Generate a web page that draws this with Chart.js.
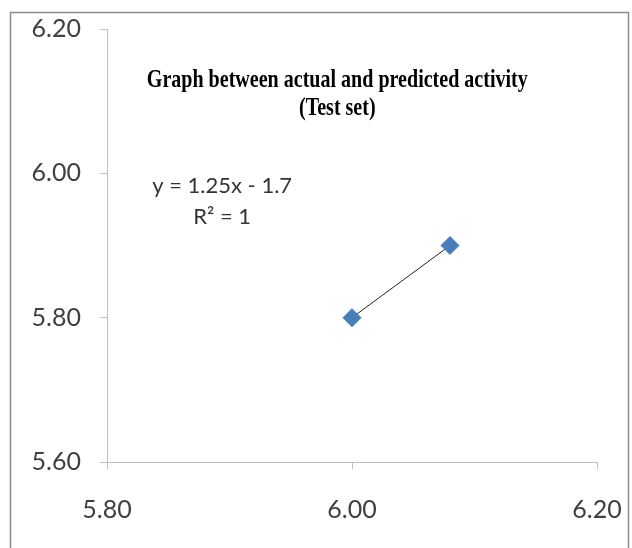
<!DOCTYPE html>
<html>
<head>
<meta charset="utf-8">
<script src="https://cdn.jsdelivr.net/npm/chart.js@4.4.1/dist/chart.umd.min.js"></script>
<style>
  html, body { margin: 0; padding: 0; background: #fff; }
  #wrap { width: 632px; height: 548px; }
</style>
</head>
<body>
<div id="wrap"><canvas id="my-chart" width="632" height="548"></canvas></div>
<script>
'use strict';

// data
let actualValues = [6.00, 6.08];
let predictedValues = [5.80, 5.90];

// axis ticks
let xTicks = [5.80, 6.00, 6.20];
let yTicks = [5.60, 5.80, 6.00, 6.20];

// text
let titleLines = ['Graph between actual and predicted activity', '(Test set)'];
let equationLines = ['y = 1.25x - 1.7', 'R\u00b2 = 1'];

let axisGrey = '#bfbfbf';
let labelFont = 'Lato, "Open Sans", sans-serif';

// build points
let points = [];
for (let i = 0; i < actualValues.length; i++) {
  points.push({ x: actualValues[i], y: predictedValues[i] });
}

// white background and outer frame
let framePlugin = {
  id: 'frame',
  beforeDraw(chart) {
    let c = chart.ctx;
    c.save();
    c.fillStyle = '#fff';
    c.fillRect(0, 0, chart.width, chart.height);
    c.strokeStyle = '#8c8c8c';
    c.lineWidth = 1.5;
    c.strokeRect(10.5, 12.5, 618, 560);
    c.restore();
  }
};

// title and trendline equation, placed with data coordinates
let textPlugin = {
  id: 'texts',
  afterDraw(chart) {
    let c = chart.ctx;
    let xs = chart.scales.x;
    let ys = chart.scales.y;
    c.save();
    c.fillStyle = '#000';
    c.textAlign = 'center';
    c.textBaseline = 'middle';

    // title: bold serif, squeezed sideways
    c.font = 'bold 25px "Liberation Serif", serif';
    let cx = xs.getPixelForValue(5.988);
    let w = c.measureText(titleLines[0]).width;
    let sx = 381 / w;
    c.save();
    c.translate(cx, ys.getPixelForValue(6.128));
    c.scale(sx, 1);
    c.fillText(titleLines[0], 0, 0);
    c.restore();
    c.save();
    c.translate(cx, ys.getPixelForValue(6.090));
    c.scale(sx, 1);
    c.fillText(titleLines[1], 0, 0);
    c.restore();

    // trendline equation
    c.fillStyle = '#333';
    c.font = '22px ' + labelFont;
    let ex = xs.getPixelForValue(5.894);
    c.fillText(equationLines[0], ex, ys.getPixelForValue(5.983));
    c.fillText(equationLines[1], ex, ys.getPixelForValue(5.939));
    c.restore();
  }
};

let ctx = document.getElementById('my-chart');

let chartObject = {
  type: 'scatter',
  data: {
    datasets: [{
      label: 'Trendline',
      data: points,
      showLine: true,
      borderColor: '#222',
      borderWidth: 1,
      pointRadius: 0,
      pointHoverRadius: 0,
      order: 2
    },
    {
      label: 'Test set',
      data: points,
      pointStyle: 'rectRot',
      pointRadius: 9,
      pointBackgroundColor: '#4a7ebb',
      pointBorderColor: '#4a7ebb',
      pointBorderWidth: 1,
      order: 1
    }]
  },
  options: {
    responsive: false,
    animation: false,
    layout: {
      padding: { top: 29, right: 35, left: 0, bottom: 0 }
    },
    plugins: {
      legend: { display: false },
      tooltip: { enabled: false },
      title: { display: false }
    },
    scales: {
      x: {
        type: 'linear',
        min: xTicks[0],
        max: xTicks[xTicks.length - 1],
        afterBuildTicks(scale) {
          scale.ticks = xTicks.map(v => ({ value: v }));
        },
        afterFit(scale) {
          scale.height = 86;
          scale.paddingLeft = 0;
          scale.paddingRight = 0;
        },
        grid: {
          drawOnChartArea: false,
          drawTicks: true,
          tickLength: 7,
          color: axisGrey
        },
        border: { color: axisGrey, width: 1 },
        ticks: {
          padding: 26,
          color: '#404040',
          font: { family: labelFont, size: 25 },
          callback: v => Number(v).toFixed(2)
        }
      },
      y: {
        type: 'linear',
        min: yTicks[0],
        max: yTicks[yTicks.length - 1],
        afterBuildTicks(scale) {
          scale.ticks = yTicks.map(v => ({ value: v }));
        },
        afterFit(scale) {
          scale.width = 107;
          scale.paddingTop = 0;
          scale.paddingBottom = 0;
        },
        grid: {
          drawOnChartArea: false,
          drawTicks: true,
          tickLength: 7,
          color: axisGrey
        },
        border: { color: axisGrey, width: 1 },
        ticks: {
          padding: 19,
          color: '#404040',
          font: { family: labelFont, size: 25 },
          callback: v => Number(v).toFixed(2)
        }
      }
    }
  },
  plugins: [framePlugin, textPlugin]
};

const myChart = new Chart(ctx, chartObject);
</script>
</body>
</html>
